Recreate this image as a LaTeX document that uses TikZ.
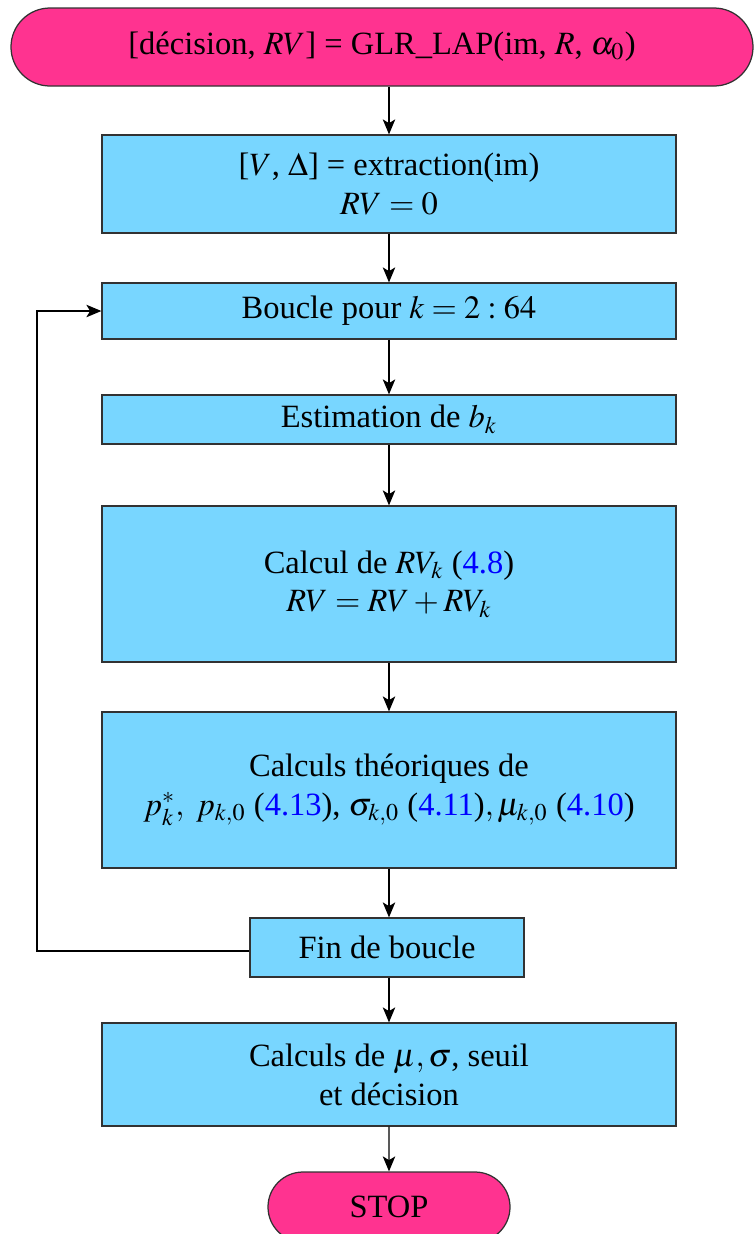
\documentclass[tikz,border=0pt]{standalone}
\usepackage{mathptmx}
\usepackage[no-math]{fontspec}
\setmainfont{Liberation Serif}
\usetikzlibrary{shapes.misc,arrows.meta}
\definecolor{pinkfill}{RGB}{255,51,144}
\definecolor{bluefill}{RGB}{120,214,255}
\definecolor{refblue}{RGB}{0,0,255}
\definecolor{edgegray}{RGB}{50,50,50}
\newcommand{\rf}[1]{\textcolor{refblue}{#1}}
\begin{document}
\begin{tikzpicture}[x=0.4pt,y=-0.4pt,
  every node/.style={font=\fontsize{13}{15.5}\selectfont, align=center, inner sep=0pt},
  procbox/.style={draw=edgegray, line width=0.5pt, fill=bluefill, minimum width=229.6pt},
  termbox/.style={draw=edgegray, line width=0.5pt, fill=pinkfill, rounded rectangle},
  arr/.style={-{Stealth[length=6pt,width=5pt,inset=1.5pt]}, line width=0.5pt}]
\useasboundingbox (0,0) rectangle (754,1234);
\node[termbox, minimum width=296.8pt, minimum height=31.2pt] (start) at (382,47)
  {[décision, $RV$] = GLR\_LAP(im, $R$, $\alpha_0$)};
\node[procbox, minimum height=39.2pt] (b2) at (389,184)
  {\raisebox{-2pt}{[$V$, $\Delta$] = extraction(im)}\\ \raisebox{-2pt}{$RV=0$}};
\node[procbox, minimum height=22.4pt] (b3) at (389,311)
  {Boucle pour $k=2:64$};
\node[procbox, minimum height=19.6pt] (b4) at (389,419.5)
  {Estimation de $b_k$};
\node[procbox, minimum height=62.4pt] (b5) at (389,584)
  {Calcul de $RV_k$ (\rf{4.8})\\ $RV=RV+RV_k$};
\node[procbox, minimum height=62.4pt] (b6) at (389,790)
  {Calculs théoriques de\\ $p_k^*,\ p_{k,0}$ (\rf{4.13}),\ $\sigma_{k,0}$ (\rf{4.11})$,\mu_{k,0}$ (\rf{4.10})};
\node[procbox, minimum width=109.6pt, minimum height=23.6pt] (fin) at (387,947.5)
  {Fin de boucle};
\node[procbox, minimum height=41.2pt] (b8) at (389,1074.5)
  {Calculs de $\mu,\sigma$, seuil\\ et décision};
\node[termbox, minimum width=96.8pt, minimum height=28pt] (stop) at (389,1207)
  {STOP};
\coordinate (lp) at (37,0);
\draw[arr] (start.south -| b2.north) -- (b2.north);
\draw[arr] (b2) -- (b3);
\draw[arr] (b3) -- (b4);
\draw[arr] (b4) -- (b5);
\draw[arr] (b5) -- (b6);
\draw[arr] (b6.south) -- (b6.south |- fin.north);
\draw[arr] (fin.south -| b8.north) -- (b8.north);
\draw[arr] (b8) -- (stop);
\draw[arr] ([yshift=-1.4pt]fin.west) -- ([yshift=-1.4pt]fin.west -| lp) -- (b3.west -| lp) -- (b3.west);
\end{tikzpicture}
\end{document}
